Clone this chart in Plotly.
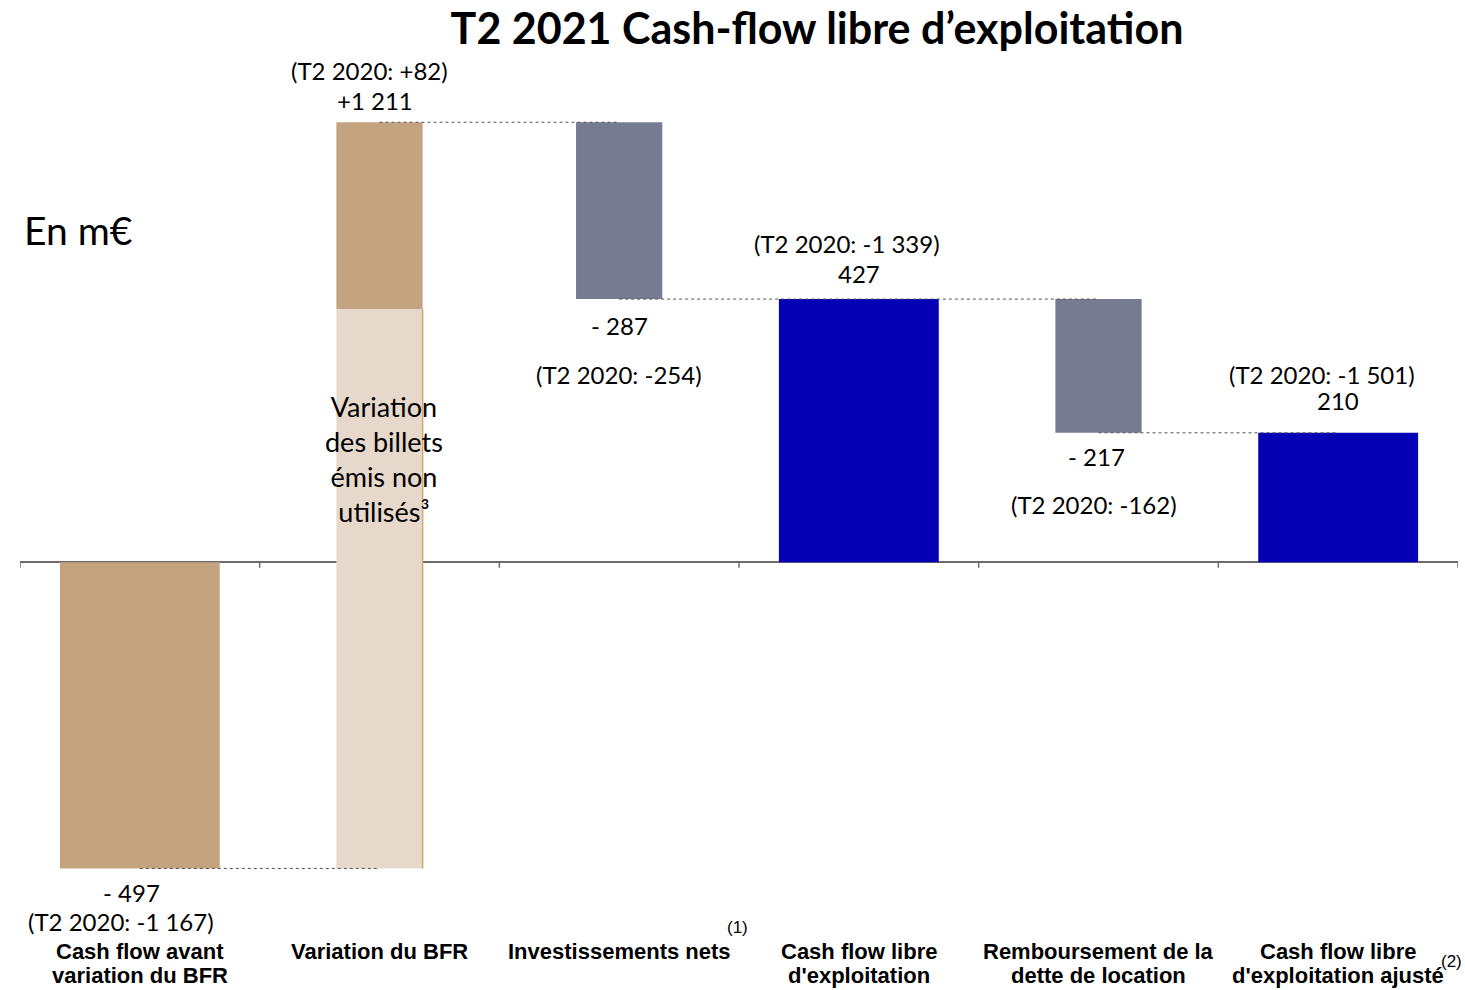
import plotly.graph_objects as go

# data (m€)
categories = [
    "Cash flow avant<br>variation du BFR",
    "Variation du BFR",
    "Investissements nets",
    "Cash flow libre<br>d'exploitation",
    "Remboursement de la<br>dette de location",
    "Cash flow libre<br>d'exploitation ajusté",
]
values = [-497, 1211, -287, 427, -217, 210]
is_total = [False, False, False, True, False, True]
billets = 908  # part of BFR change from unused issued notes (estimated)
value_labels = ["- 497", "+1 211", "- 287", "427", "- 217", "210"]
prior_labels = ["(T2 2020: -1 167)", "(T2 2020: +82)", "(T2 2020: -254)",
                "(T2 2020: -1 339)", "(T2 2020: -162)", "(T2 2020: -1 501)"]

TAN = "#C4A381"
LIGHT = "#E6D9CB"
GREY = "#777B91"
BLUE = "#0600B4"
TXT_FONT = "Lato, Noto Sans, sans-serif"
CAT_FONT = "Liberation Sans, Arial, sans-serif"

# running totals -> bases / tops
bases, tops = [], []
run = 0
for v, tot in zip(values, is_total):
    if tot:
        bases.append(0)
        tops.append(v)
        run = v
    else:
        bases.append(run)
        run += v
        tops.append(run)

x = list(range(len(categories)))
widths = [0.667, 0.36, 0.36, 0.667, 0.36, 0.667]
colors = [TAN, TAN, GREY, BLUE, GREY, BLUE]

fig = go.Figure()

# light part of the BFR bar (billets)
fig.add_trace(go.Bar(
    x=[x[1]], y=[billets], base=[bases[1]], width=[widths[1]],
    marker=dict(color=LIGHT, line=dict(width=0)), hoverinfo="skip",
))

# main bars (the BFR bar only shows what is above the billets part)
ys, bs = [], []
for i in x:
    if i == 1:
        bs.append(bases[1] + billets)
        ys.append(tops[1] - bases[1] - billets)
    else:
        bs.append(bases[i])
        ys.append(tops[i] - bases[i])
fig.add_trace(go.Bar(
    x=x, y=ys, base=bs, width=widths,
    marker=dict(color=colors, line=dict(width=0)),
))

# thin orange edge on the right of the billets bar
fig.add_shape(type="line", xref="x", yref="y",
              x0=1 + widths[1] / 2, x1=1 + widths[1] / 2,
              y0=bases[1], y1=bases[1] + billets,
              line=dict(color="#D9A66E", width=1.5), layer="above")

# connectors
ends = [tops[i] if not is_total[i] else values[i] for i in x]
for i in range(len(x) - 1):
    lvl = ends[i]
    fig.add_shape(type="line", xref="x", yref="y", x0=i, x1=i + 1, y0=lvl, y1=lvl,
                  line=dict(color="#555555", width=1, dash="dot"), layer="above")

# axis ticks at category boundaries
for k in range(len(x) + 1):
    fig.add_shape(type="line", xref="x", yref="y", x0=k - 0.5, x1=k - 0.5, y0=0, y1=-9,
                  line=dict(color="#6b6b6b", width=1.5))

# value labels
lab = dict(font=dict(family=TXT_FONT, size=24, color="black"), showarrow=False)
val_shift = [(-8, -24), (-5, 22), (0, -26), (0, 26), (-2, -24), (0, 32)]
prior_shift = [(-19, -53), (-10, 52), (0, -75), (-12, 56), (-5, -72), (-16, 58)]
for i in x:
    anchor = bases[i] + values[i] if not is_total[i] else values[i]
    if i == 1:
        anchor = tops[1]
    fig.add_annotation(x=i, y=anchor, text=value_labels[i],
                       xshift=val_shift[i][0], yshift=val_shift[i][1], **lab)
    fig.add_annotation(x=i, y=anchor, text=prior_labels[i],
                       xshift=prior_shift[i][0], yshift=prior_shift[i][1], **lab)

# category labels (one annotation per line for a tight line spacing)
for i, cat in enumerate(categories):
    for j, line in enumerate(cat.split("<br>")):
        fig.add_annotation(x=i, yref="paper", y=0, yanchor="middle", text=line,
                           yshift=-16 - 24 * j, showarrow=False,
                           font=dict(family=CAT_FONT, size=22, color="black", weight="bold"))

# text inside the billets bar
fig.add_annotation(x=1, y=bases[1] + billets, text="Variation<br>des billets<br>émis non<br>utilisés³",
                   xshift=4, yshift=-150, showarrow=False,
                   font=dict(family=TXT_FONT, size=27, color="black"))

# unit label
fig.add_annotation(xref="paper", yref="paper", x=0.0014, y=0.806, xanchor="left", yanchor="middle",
                   text="En m€", showarrow=False,
                   font=dict(family=TXT_FONT, size=39, color="black"))

# footnote markers
note = dict(showarrow=False, yanchor="middle",
            font=dict(family=CAT_FONT, size=17, color="black"))
fig.add_annotation(x=2, yref="paper", y=0, text="(1)", xshift=118, yshift=8, **note)
fig.add_annotation(x=5, yref="paper", y=0, text="(2)", xshift=113, yshift=-26, **note)

fig.update_layout(
    title=dict(text="<b>T2 2021 Cash-flow libre d’exploitation</b>", x=0.5577, xanchor="center",
               y=0.9707, yanchor="middle", font=dict(family=TXT_FONT, size=43, color="black")),
    width=1465, height=990,
    margin=dict(l=20, r=7, t=60, b=55),
    plot_bgcolor="white", paper_bgcolor="white",
    barmode="overlay", showlegend=False,
    xaxis=dict(range=[-0.5, 5.5], showticklabels=False, ticks="", automargin=False,
               showline=False, showgrid=False, zeroline=False),
    yaxis=dict(range=[-605, 815], showticklabels=False, showgrid=False, automargin=False,
               zeroline=True, zerolinecolor="#6b6b6b", zerolinewidth=1.5, showline=False, ticks=""),
)

# page body margin would push the fixed-size figure off the 1465x990 window
fig.write_html("out.html", config={"displayModeBar": False},
               post_script="document.body.style.margin='0';")
